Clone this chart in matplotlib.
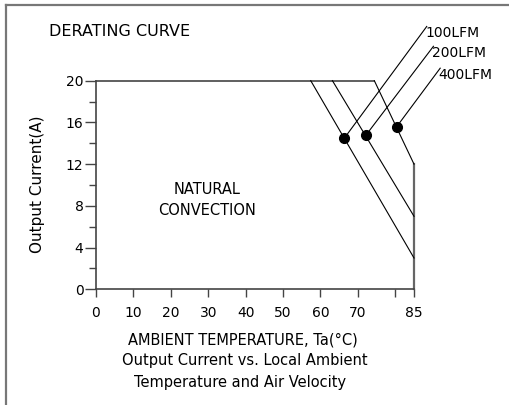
import matplotlib
matplotlib.use("Agg")
import matplotlib.pyplot as plt
from matplotlib.lines import Line2D

# derating curves: full current until the knee, then linear down to 85C
airflow = ["100LFM", "200LFM", "400LFM"]
knee_temp = [57.4, 63.2, 74.4]
end_current = [3, 7, 12]
max_current = 20
max_temp = 85

# marker dots on each curve and the end of their leader lines
dot_temp = [66.4, 72.2, 80.4]
dot_current = [14.5, 14.8, 15.6]
leader_temp = [88.4, 90.2, 92.0]
leader_current = [25.2, 23.3, 21.2]

xticks = [0, 10, 20, 30, 40, 50, 60, 70, 80, 85]
xticklabels = ["0", "10", "20", "30", "40", "50", "60", "70", "", "85"]
yticks = [0, 4, 8, 12, 16, 20]

W, H = 509, 405
fig = plt.figure(figsize=(W / 100, H / 100), dpi=100)
plt.rcParams['font.family'] = 'DejaVu Sans'

def px(x, y):
    return x / W, 1 - y / H

ax = fig.add_axes([96 / W, 1 - 289.3 / H, 318 / W, 208.6 / H])
ax.set_xlim(0, max_temp)
ax.set_ylim(0, max_current)
for s in ["top", "right"]:
    ax.spines[s].set_visible(False)
axis_col = "#444444"
for s in ["left", "bottom"]:
    ax.spines[s].set_color(axis_col)
    ax.spines[s].set_linewidth(1.2)

ax.set_xticks(xticks)
ax.set_xticklabels(xticklabels, fontsize=10)
ax.set_yticks(yticks)
ax.set_yticklabels([str(v) for v in yticks], fontsize=10)
ax.set_yticks([2, 6, 10, 14, 18], minor=True)
ax.tick_params(axis="x", direction="out", length=6, width=1, color=axis_col, pad=6)
ax.tick_params(axis="y", which="major", direction="out", length=8, width=1, color=axis_col, pad=1)
ax.tick_params(axis="y", which="minor", direction="out", length=5, width=1, color=axis_col)
ax.patch.set_visible(False)

# outer envelope: top at 20A, down along the 400LFM curve, then right edge at 85C
ax.plot([0, knee_temp[2]], [max_current, max_current], color=axis_col, lw=1.2, clip_on=False)
ax.plot([max_temp, max_temp], [0, end_current[2]], color="#666666", lw=1.6, clip_on=False)

for k, e in zip(knee_temp, end_current):
    ax.plot([k, max_temp], [max_current, e], color="black", lw=0.8, clip_on=False)

for name, dx, dy, lx, ly in zip(airflow, dot_temp, dot_current, leader_temp, leader_current):
    ax.plot([dx, lx], [dy, ly], color="black", lw=0.8, clip_on=False)
    ax.plot(dx, dy, "o", color="black", ms=7, clip_on=False)
    ax.annotate(name, (lx, ly), xytext=(-1, 0), textcoords="offset points",
                ha="left", va="top", fontsize=10, annotation_clip=False)

fig.text(*px(49, 32), "DERATING CURVE", ha="left", va="center", fontsize=11.5)
fig.text(*px(207, 200), "NATURAL\nCONVECTION", ha="center", va="center",
         fontsize=10.5, linespacing=1.5)
fig.text(*px(38, 184), "Output Current(A)", rotation=90, ha="center", va="center", fontsize=11)
fig.text(*px(243, 340), "AMBIENT TEMPERATURE, Ta(°C)", ha="center", va="center", fontsize=10.5)
fig.text(*px(245, 361), "Output Current vs. Local Ambient", ha="center", va="center", fontsize=10.5)
fig.text(*px(240, 382), "Temperature and Air Velocity", ha="center", va="center", fontsize=10.5)

# figure border (top and left only)
fig.add_artist(Line2D([6 / W, 6 / W], [0, 1 - 5 / H], transform=fig.transFigure,
                      color="#777777", lw=1.6))
fig.add_artist(Line2D([6 / W, 1], [1 - 5 / H, 1 - 5 / H], transform=fig.transFigure,
                      color="#777777", lw=1.6))

fig.savefig("out.png", dpi=100)
